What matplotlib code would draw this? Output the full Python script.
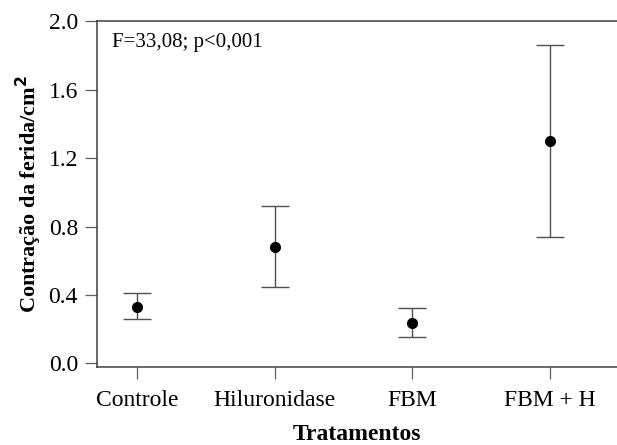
import numpy as np
import matplotlib.pyplot as plt

# dados
tratamentos = ['Controle', 'Hiluronidase', 'FBM', 'FBM + H']
media = [0.331, 0.682, 0.237, 1.300]
limite_sup = [0.409, 0.920, 0.323, 1.861]
limite_inf = [0.257, 0.448, 0.152, 0.737]

plt.rcParams['font.family'] = ['Liberation Serif', 'DejaVu Serif']

fig = plt.figure(figsize=(6.17, 4.45), dpi=100)
ax = fig.add_axes([96.7 / 617, 1 - 367.3 / 445, 1 - 96.7 / 617, (367.3 - 21.3) / 445])

x = np.arange(len(tratamentos))
media = np.array(media)
erro = [media - np.array(limite_inf), np.array(limite_sup) - media]

ax.errorbar(x, media, yerr=erro, fmt='o', color='black', markersize=7,
            ecolor='#505050', elinewidth=1.0, capsize=10, capthick=1.0)

ax.set_xlim(-0.293, 3.486)
ax.set_ylim(-0.023, 2.0)
ax.set_xticks(x)
ax.set_xticklabels(tratamentos)
ax.set_yticks([0.0, 0.4, 0.8, 1.2, 1.6, 2.0])
ax.set_yticklabels(['0.0', '0.4', '0.8', '1.2', '1.6', '2.0'])

for s in ['left', 'bottom', 'top']:
    ax.spines[s].set_color('#404040')
    ax.spines[s].set_linewidth(1.1)
ax.spines['right'].set_visible(False)

ax.tick_params(axis='both', length=8.5, width=0.9, color='#606060', labelsize=17, pad=5)
ax.tick_params(axis='x', pad=8)

ax.set_ylabel('Contração da ferida/cm$^\\mathbf{2}$', fontsize=16, fontweight='bold', labelpad=3)
ax.set_xlabel('Tratamentos', fontsize=17, fontweight='bold', labelpad=9)

ax.text(0.029, 0.965, 'F=33,08; p<0,001', transform=ax.transAxes, fontsize=15,
        va='top', ha='left')

fig.savefig('out.png', dpi=100)
